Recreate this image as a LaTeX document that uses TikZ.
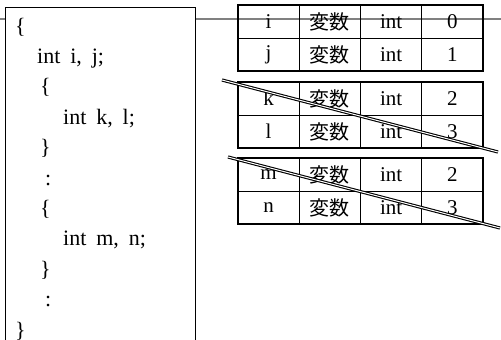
\documentclass[tikz,border=0pt]{standalone}
\usepackage{fontspec}
\setmainfont{Liberation Serif}
\newfontfamily\codefont{Liberation Serif}[WordSpace=1.8]
\newfontfamily\jpfont{Noto Sans CJK JP}
\usetikzlibrary{positioning}

\tikzset{
  cell/.style={draw, line width=0.6pt, minimum width=61.25pt, minimum height=33pt,
    inner sep=0pt, outer sep=0pt, font=\fontsize{21}{24}\selectfont},
  src/.style={anchor=base west, inner sep=0pt, font=\codefont\fontsize{22}{25}\selectfont},
  strike/.style={double, double distance=1pt, line width=1.1pt},
}

\begin{document}
\begin{tikzpicture}[x=1pt, y=-1pt, node distance=61.25pt, on grid]
  \useasboundingbox (0,0) rectangle (501,340);
  % scope line
  \draw[gray, line width=1.5pt] (0,19) -- (501,19);
  % the block of source code
  \draw[fill=white, line width=0.9pt] (5,7) rectangle (195,360);
  \foreach \x/\txt [count=\k] in {15/\{, 37/{int i, j;}, 40/\{, 63/{int k, l;}, 40/\},
      45/:, 40/\{, 63/{int m, n;}, 40/\}, 45/:, 15/\}}
    \node[src] (line\k) at (\x,{33+30.4*(\k-1)}) {\txt};
  % symbol table rows
  \foreach \v/\n/\y in {i/0/21.5, j/1/54.5, k/2/98.5, l/3/131.5, m/2/174.5, n/3/207.5} {
    \node[cell] (\v1) at (268.6,\y) {\v};
    \node[cell] (\v2) [right=of \v1] {\jpfont\fontsize{20}{24}\selectfont 変数};
    \node[cell] (\v3) [right=of \v2] {int};
    \node[cell] (\v4) [right=of \v3] {\n};
  }
  \foreach \a/\b in {i/j, k/l, m/n}
    \draw[line width=1.6pt] (\a1.north west) rectangle (\b4.south east);
  % removed entries
  \coordinate (kl start) at (222,80);
  \coordinate (kl end) at (498,152);
  \coordinate (mn start) at (228,157);
  \coordinate (mn end) at (500,228);
  \draw[strike] (kl start) -- (kl end);
  \draw[strike] (mn start) -- (mn end);
\end{tikzpicture}
\end{document}
